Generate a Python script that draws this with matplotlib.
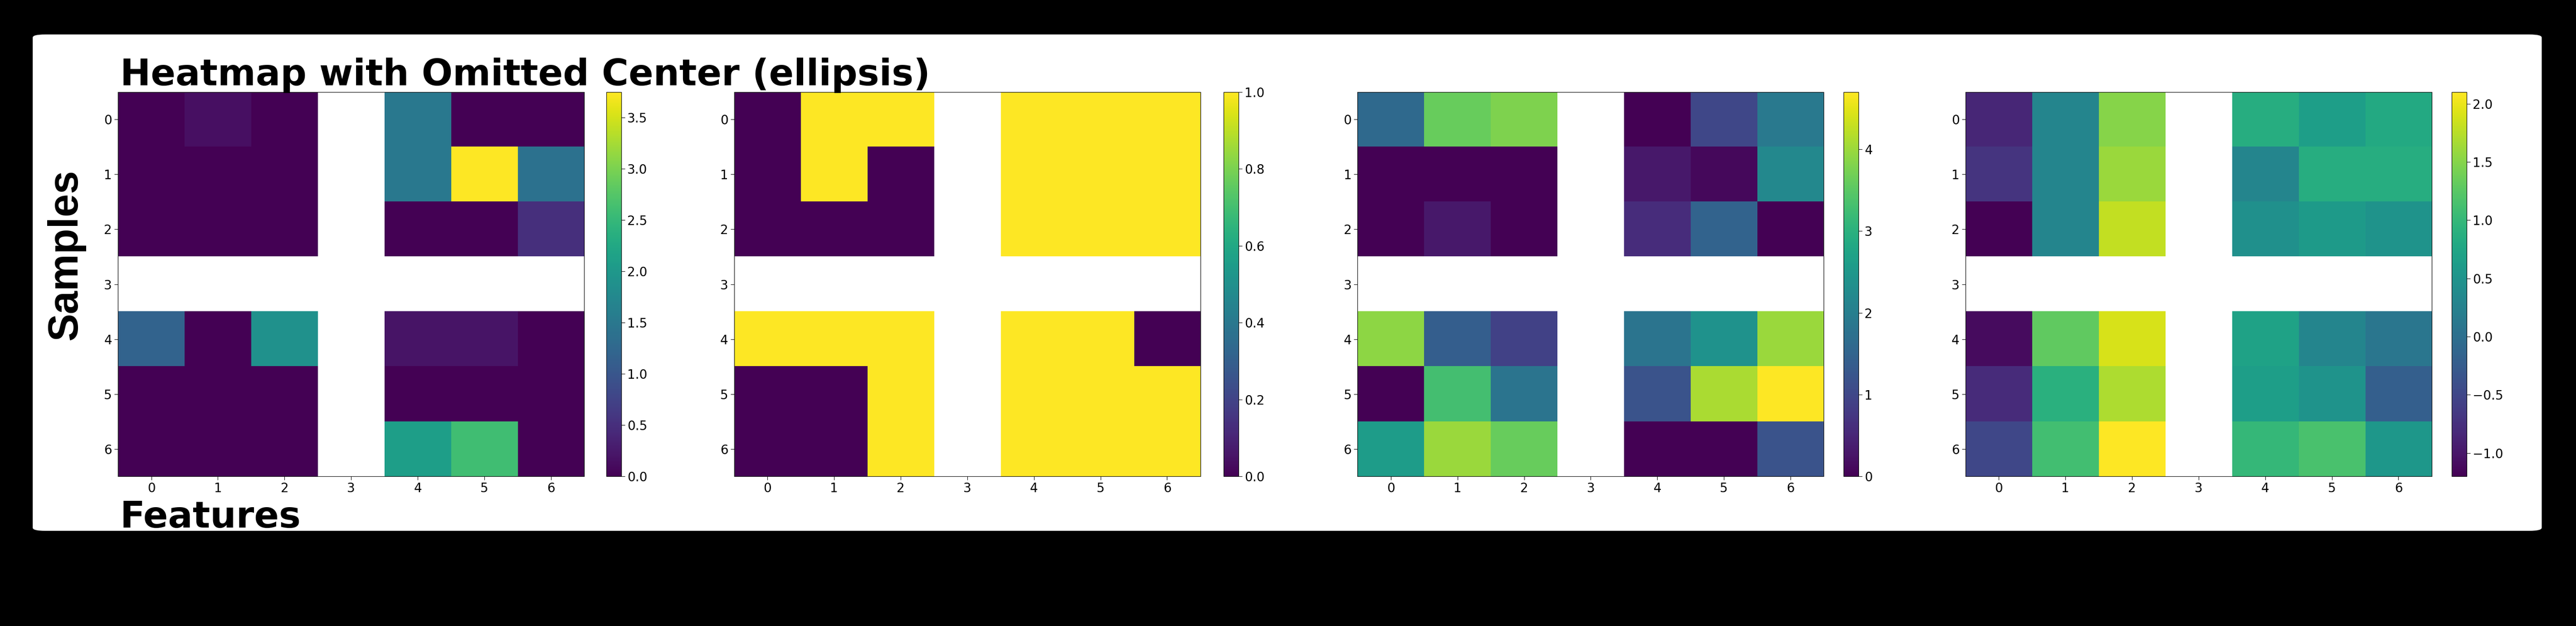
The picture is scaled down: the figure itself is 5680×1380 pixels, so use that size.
import numpy as np
import matplotlib
matplotlib.use("Agg")
import matplotlib.pyplot as plt
from matplotlib.patches import FancyBboxPatch

nan = np.nan
# rows 0..6, cols 0..6; row 3 and col 3 are the omitted center
panel_a = [[0, 0.15, 0, nan, 1.5, 0, 0],
           [0, 0, 0, nan, 1.5, 3.75, 1.4],
           [0, 0, 0, nan, 0, 0, 0.5],
           [nan] * 7,
           [1.2, 0, 1.9, nan, 0.2, 0.2, 0],
           [0, 0, 0, nan, 0, 0, 0],
           [0, 0, 0, nan, 2.1, 2.6, 0]]
panel_b = [[0, 1, 1, nan, 1, 1, 1],
           [0, 1, 0, nan, 1, 1, 1],
           [0, 0, 0, nan, 1, 1, 1],
           [nan] * 7,
           [1, 1, 1, nan, 1, 1, 0],
           [0, 0, 1, nan, 1, 1, 1],
           [0, 0, 1, nan, 1, 1, 1]]
panel_c = [[1.6, 3.6, 3.8, nan, 0, 1.0, 1.9],
           [0, 0, 0, nan, 0.3, 0.1, 2.2],
           [0, 0.3, 0, nan, 0.6, 1.5, 0],
           [nan] * 7,
           [3.9, 1.4, 0.9, nan, 1.8, 2.4, 4.0],
           [0, 3.3, 1.8, nan, 1.2, 4.1, 4.7],
           [2.6, 4.0, 3.6, nan, 0, 0, 1.2]]
panel_d = [[-0.85, 0.3, 1.5, nan, 0.85, 0.65, 0.8],
           [-0.7, 0.3, 1.6, nan, 0.3, 0.85, 0.85],
           [-1.2, 0.3, 1.8, nan, 0.45, 0.6, 0.5],
           [nan] * 7,
           [-1.1, 1.3, 1.9, nan, 0.7, 0.3, 0.1],
           [-0.8, 0.9, 1.7, nan, 0.65, 0.5, -0.2],
           [-0.5, 1.1, 2.1, nan, 1.0, 1.15, 0.55]]
panels = [panel_a, panel_b, panel_c, panel_d]

fig = plt.figure(figsize=(56.8, 13.8), dpi=100, facecolor="black")
bg = fig.add_axes([0, 0, 1, 1], zorder=-10)
bg.set_axis_off()
bg.add_patch(FancyBboxPatch((0.0127, 0.152), 0.974, 0.793, transform=bg.transAxes,
                            boxstyle="round,pad=0,rounding_size=0.005",
                            facecolor="white", edgecolor="none"))

ax_left = [0.0458, 0.285, 0.527, 0.763]
cb_left = [0.2354, 0.475, 0.7157, 0.9517]
for data, al, cl in zip(panels, ax_left, cb_left):
    ax = fig.add_axes([al, 0.239, 0.181, 0.614])
    im = ax.imshow(np.array(data), cmap="viridis", aspect="auto")
    ax.set_xticks(range(7))
    ax.set_yticks(range(7))
    ax.tick_params(labelsize=20, length=6)
    cax = fig.add_axes([cl, 0.239, 0.0058, 0.614])
    cb = fig.colorbar(im, cax=cax)
    cb.ax.tick_params(labelsize=20, length=6)

fig.text(0.0466, 0.864, "Heatmap with Omitted Center (ellipsis)", fontsize=58,
         fontweight="bold", ha="left", va="baseline")
fig.text(0.0466, 0.157, "Features", fontsize=58,
         fontweight="bold", ha="left", va="baseline")
fig.text(0.0255, 0.593, "Samples", fontsize=66, family="Liberation Sans",
         fontweight="bold", rotation=90, ha="center", va="center")

fig.savefig("out.png", dpi=100, facecolor="black")
